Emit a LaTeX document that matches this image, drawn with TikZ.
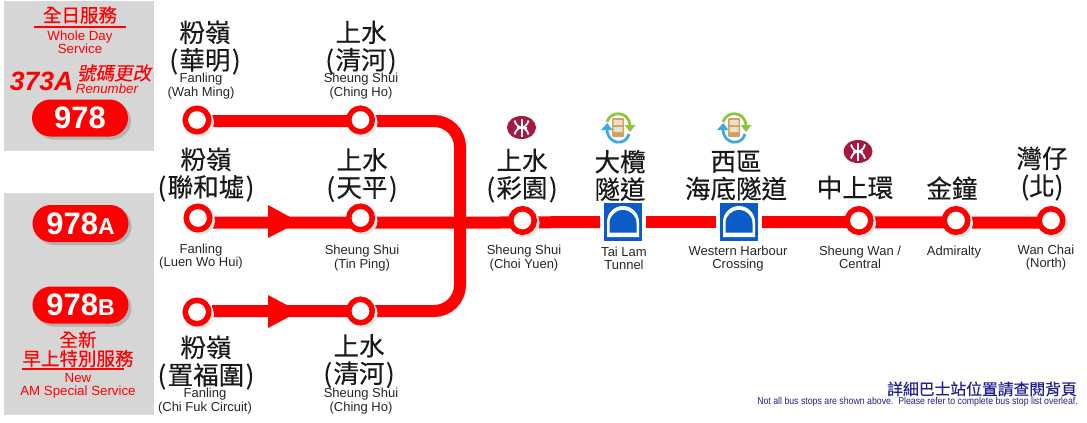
\documentclass[tikz,border=0pt]{standalone}
\usepackage{fontspec}
\setmainfont{Liberation Sans}
\newfontfamily\cjk[FakeBold=0.35]{Noto Sans CJK TC}
\newfontfamily\cjkslant[FakeSlant=0.2,FakeBold=0.2]{Noto Sans CJK TC}
\newfontfamily\narrowfont[FakeStretch=0.875]{Liberation Sans}
\usetikzlibrary{shapes.misc,shadows}
\definecolor{panelgray}{HTML}{D6D6D6}
\definecolor{mtrred}{HTML}{A6193E}
\definecolor{tunnelblue}{HTML}{0B5CC6}
\definecolor{bustan}{HTML}{C9A36B}
\definecolor{bustint}{HTML}{F0DFC4}
\definecolor{swapgreen}{HTML}{8CC63F}
\definecolor{swapblue}{HTML}{3FA9E0}
\definecolor{notenavy}{HTML}{1F1F8F}
\newcommand{\zhparen}[1]{(\kern1.5pt#1\kern1.5pt)}
\tikzset{
	routeline/.style={red,line width=12pt},
	stopring/.style={circle,draw=red,fill=white,line width=5.5pt,minimum size=23.5pt,inner sep=0pt,
		drop shadow={shadow xshift=2.5pt,shadow yshift=-2.5pt,draw=black!9,fill=black!9,opacity=1}},
	routepill/.style={rounded rectangle,fill=red,text=white,minimum width=96pt,minimum height=37pt,inner sep=0pt,
		font=\bfseries\fontsize{31}{31}\selectfont,
		drop shadow={shadow xshift=3pt,shadow yshift=-3pt,fill=black!30,opacity=1}},
	tunnelbox/.style={fill=tunnelblue,minimum size=38pt,inner sep=0pt,outer sep=4pt},
	cjklabel/.style={font=\cjk\fontsize{25.5}{27.5}\selectfont,text=black!90,align=center,inner sep=0pt},
	enlabel/.style={font=\fontsize{13}{13.5}\selectfont,text=black!85,align=center,inner sep=0pt},
	redzh/.style={font=\cjk\fontsize{18.5}{15}\selectfont,text=red,align=center,inner sep=0pt},
	reden/.style={font=\fontsize{13.3}{13}\selectfont,text=red,align=center,inner sep=0pt},
	redrule/.style={red,line width=1.6pt},
	pics/mtrlogo/.style={code={
		\fill[mtrred] (0,0) ellipse (14.5pt and 11.5pt);
		\draw[white,line width=2pt] (0,-9) -- (0,9) (-5,0) -- (5,0);
		\draw[white,line width=1.8pt] (-7,-7) .. controls (-6,-3) and (-3,0) .. (0,0) .. controls (3,0) and (6,-3) .. (7,-7);
		\draw[white,line width=1.8pt] (-7,7) .. controls (-6,3) and (-3,0) .. (0,0) .. controls (3,0) and (6,3) .. (7,7);
	}},
	pics/busswap/.style={code={
		\draw[swapgreen,line width=2.8pt] (-11,-6) .. controls (-8,-17) and (10,-18) .. (12,-3);
		\fill[swapgreen] (6.5,-3) -- (17.5,-3) -- (12,4) -- cycle;
		\draw[swapblue,line width=2.8pt] (-11,2) .. controls (-10,17) and (8,18) .. (11,6);
		\fill[swapblue] (-17,2) -- (-5.5,2) -- (-10.7,-5) -- cycle;
		\fill[bustan,rounded corners=1pt] (-6,-10) rectangle (6,9);
		\fill[bustint] (-4.5,-8) rectangle (4.5,-3) (-4.5,-1) rectangle (4.5,4);
	}},
	pics/tunnelarch/.style={code={
		\fill[white] (-16,15) -- (-16,0) .. controls (-16,-8.8) and (-8.8,-16) .. (0,-16) .. controls (8.8,-16) and (16,-8.8) .. (16,0) -- (16,15) -- cycle;
		\fill[tunnelblue] (-13.5,10.7) -- (-13.5,1.5) .. controls (-13.5,-6) and (-7.4,-12) .. (0,-12) .. controls (7.4,-12) and (13.5,-6) .. (13.5,1.5) -- (13.5,10.7) -- cycle;
	}},
}

\begin{document}
\begin{tikzpicture}[x=1pt,y=-1pt]
	\useasboundingbox (0,0) rectangle (1087,423);
	% grey panels
	\fill[panelgray] (4,1) rectangle (154,151);
	\fill[panelgray] (4,193) rectangle (154,415);
	% line ends
	\coordinate (startTop) at (212,121);
	\coordinate (cornerTop) at (460,121);
	\coordinate (cornerBot) at (460,311);
	\coordinate (startBot) at (212,311);
	\coordinate (startMid) at (212,222.7);
	\coordinate (mergeMid) at (460,222.7);
	\coordinate (endMid) at (1050,222.7);
	% tunnels
	\node[tunnelbox] (tunnelLam) at (623,222) {};
	\node[tunnelbox] (tunnelWest) at (739,222) {};
	\pic at (623,222) {tunnelarch};
	\pic at (739,222) {tunnelarch};
	% route
	\draw[routeline,rounded corners=26pt] (startTop) -- (cornerTop) -- (cornerBot) -- (startBot);
	\draw[routeline] (startMid) -- (mergeMid) -- (tunnelLam.west);
	\draw[routeline] (tunnelLam.east) -- (tunnelWest.west);
	\draw[routeline] (tunnelWest.east) -- (endMid);
	\fill[red] (268,205) -- (299,222) -- (268,238) -- cycle;
	\fill[red] (268,295) -- (299,311.5) -- (268,328) -- cycle;
	% stops
	\node[stopring] (wahMing) at (197,120) {};
	\node[stopring] (chingTop) at (360.5,120) {};
	\node[stopring] (luenWo) at (198,218) {};
	\node[stopring] (tinPing) at (360.5,218) {};
	\node[stopring] (chiFuk) at (197,312) {};
	\node[stopring] (chingBot) at (360.5,311) {};
	\node[stopring] (choiYuen) at (522.5,220.5) {};
	\node[stopring] (sheungWan) at (859,220.5) {};
	\node[stopring] (admiralty) at (956,220.5) {};
	\node[stopring] (wanChai) at (1051,220.5) {};
	% icons
	\pic at (521.5,127.5) {mtrlogo};
	\pic at (858,151.5) {mtrlogo};
	\pic at (618,128) {busswap};
	\pic at (734,128) {busswap};
	% chinese names
	\node[cjklabel] (zhWah) at (205,47.5) {粉嶺\\\zhparen{華明}};
	\node[cjklabel] (zhChingTop) at (361,47.5) {上水\\\zhparen{清河}};
	\node[cjklabel] (zhLuen) at (206,174.5) {粉嶺\\\zhparen{聯和墟}};
	\node[cjklabel] (zhTin) at (362,175) {上水\\\zhparen{天平}};
	\node[cjklabel] (zhChi) at (206,362.5) {粉嶺\\\zhparen{置福圍}};
	\node[cjklabel] (zhChingBot) at (359,361) {上水\\\zhparen{清河}};
	\node[cjklabel] (zhChoi) at (522,175.5) {上水\\\zhparen{彩園}};
	\node[cjklabel] (zhLam) at (620,175.5) {大欖\\隧道};
	\node[cjklabel] (zhWest) at (736,175.5) {西區\\海底隧道};
	\node[cjklabel] (zhSheung) at (855,187.5) {中上環};
	\node[cjklabel] (zhAdm) at (952,188) {金鐘};
	\node[cjklabel] (zhWan) at (1042,173.5) {灣仔\\(北)};
	% english names
	\node[enlabel] (enWah) at (201,86) {Fanling\\(Wah Ming)};
	\node[enlabel] (enChingTop) at (361,86) {Sheung Shui\\(Ching Ho)};
	\node[enlabel] (enLuen) at (201,256.5) {Fanling\\(Luen Wo Hui)};
	\node[enlabel] (enTin) at (362,258) {Sheung Shui\\(Tin Ping)};
	\node[enlabel] (enChi) at (205,401) {Fanling\\(Chi Fuk Circuit)};
	\node[enlabel] (enChingBot) at (361,401) {Sheung Shui\\(Ching Ho)};
	\node[enlabel] (enChoi) at (524,258) {Sheung Shui\\(Choi Yuen)};
	\node[enlabel] (enLam) at (624,258.5) {Tai Lam\\Tunnel};
	\node[enlabel] (enWest) at (738,258.5) {Western Harbour\\Crossing};
	\node[enlabel] (enSheung) at (860,257.5) {Sheung Wan /\\Central};
	\node[enlabel] (enAdm) at (954,252) {Admiralty};
	\node[enlabel] (enWan) at (1046,257.5) {Wan Chai\\(North)};
	% left panels
	\node[redzh] (wholeZh) at (80,15) {全日服務};
	\draw[redrule] (34,27) -- (126,27);
	\node[reden] (wholeEn) at (80,42) {Whole Day\\Service};
	\node[font=\bfseries\itshape\fontsize{26.5}{26.5}\selectfont,text=red,inner sep=0pt] (oldNo) at (41.5,81) {373A};
	\node[font=\cjkslant\fontsize{18.5}{18.5}\selectfont,text=red,inner sep=0pt] (renumZh) at (114,73) {號碼更改};
	\node[font=\itshape\fontsize{13.3}{13.3}\selectfont,text=red,inner sep=0pt] (renumEn) at (107,88.5) {Renumber};
	\node[routepill] (pillWhole) at (80,118) {978};
	\node[routepill] (pillA) at (80.5,223.5) {978{\fontsize{23}{23}\selectfont A}};
	\node[routepill] (pillB) at (80.5,305) {978{\fontsize{23}{23}\selectfont B}};
	\node[redzh] (newZh) at (78,339.5) {全新};
	\node[redzh] (newZhB) at (78,358.5) {早上特別服務};
	\draw[redrule] (22,369) -- (124,369);
	\node[reden] (newEn) at (78,386) {New\\AM Special Service};
	% note
	\node[font=\cjk\fontsize{15.8}{15.8}\selectfont,text=notenavy,anchor=east,inner sep=0pt] (noteZh) at (1077,389) {詳細巴士站位置請查閱背頁};
	\node[font=\narrowfont\fontsize{10}{10}\selectfont,text=notenavy,anchor=east,inner sep=0pt] (noteEn) at (1078,402) {Not all bus stops are shown above.\ \ Please refer to complete bus stop list overleaf.};
\end{tikzpicture}
\end{document}
